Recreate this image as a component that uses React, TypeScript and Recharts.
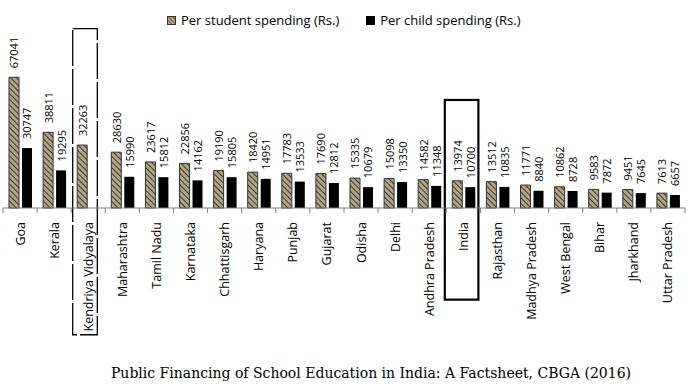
import { BarChart, Bar, XAxis, YAxis, LabelList, ReferenceArea } from "recharts"

const STATES = [
  "Goa", "Kerala", "Kendriya Vidyalaya", "Maharashtra", "Tamil Nadu", "Karnataka",
  "Chhattisgarh", "Haryana", "Punjab", "Gujarat", "Odisha", "Delhi", "Andhra Pradesh",
  "India", "Rajasthan", "Madhya Pradesh", "West Bengal", "Bihar", "Jharkhand", "Uttar Pradesh",
]
const PER_STUDENT = [
  67041, 38811, 32263, 28630, 23617, 22856, 19190, 18420, 17783, 17690,
  15335, 15098, 14582, 13974, 13512, 11771, 10862, 9583, 9451, 7613,
]
const PER_CHILD = [
  30747, 19295, null, 15990, 15812, 14162, 15805, 14951, 13533, 12812,
  10679, 13350, 11348, 10700, 10835, 8840, 8728, 7872, 7645, 6657,
]

const data = STATES.map((name, i) => ({
  name,
  student: PER_STUDENT[i],
  child: PER_CHILD[i],
}))

const FONT = "'Open Sans', sans-serif"
const TAN = "#b2a68a"

function ValueLabel(props: any) {
  const { x, y, width, value } = props
  if (value == null) return null
  const cx = x + width / 2
  const cy = y - 9
  return (
    <text
      x={cx}
      y={cy}
      transform={`rotate(-90, ${cx}, ${cy})`}
      textAnchor="start"
      dominantBaseline="central"
      fontSize={11}
      fontFamily={FONT}
      fill="#000"
    >
      {value}
    </text>
  )
}

function CategoryTick(props: any) {
  const { x, y, payload, index } = props
  const band = 682 / STATES.length
  const left = x - band / 2
  const ty = y + 6
  return (
    <g>
      <line x1={left} x2={left} y1={y - 8} y2={y - 3} stroke="#7f7f7f" />
      {index === STATES.length - 1 && (
        <line x1={left + band} x2={left + band} y1={y - 8} y2={y - 3} stroke="#7f7f7f" />
      )}
      <text
        x={x}
        y={ty}
        transform={`rotate(-90, ${x}, ${ty})`}
        textAnchor="end"
        dominantBaseline="central"
        fontSize={12.5}
        fontFamily={FONT}
        fill="#000"
      >
        {payload.value}
      </text>
    </g>
  )
}

function HatchSwatch() {
  return (
    <svg width={9} height={9} style={{ display: "block" }}>
      <rect x={0.5} y={0.5} width={8} height={8} fill="url(#hatchLegend)" stroke="#333" />
    </svg>
  )
}

export default function App() {
  return (
    <div style={{ position: "absolute", left: 0, top: 0, width: 699, height: 392, background: "#fff" }}>
      <svg width={0} height={0} style={{ position: "absolute" }}>
        <defs>
          <pattern id="hatchLegend" width={3} height={3} patternUnits="userSpaceOnUse" patternTransform="rotate(-45)">
            <rect width={3} height={3} fill={TAN} />
            <line x1={0} y1={0} x2={0} y2={3} stroke="#3d3829" strokeWidth={1.2} />
          </pattern>
        </defs>
      </svg>
      <div
        style={{
          position: "absolute",
          top: 11,
          left: 167,
          display: "flex",
          alignItems: "center",
          fontFamily: FONT,
          fontSize: 13,
          color: "#000",
        }}
      >
        <HatchSwatch />
        <span style={{ marginLeft: 5 }}>Per student spending (Rs.)</span>
        <div style={{ width: 9, height: 9, background: "#000", marginLeft: 27 }} />
        <span style={{ marginLeft: 5 }}>Per child spending (Rs.)</span>
      </div>
      <BarChart
        width={699}
        height={392}
        data={data}
        margin={{ top: 52, right: 14, left: 3, bottom: 54 }}
        barCategoryGap={6}
        barGap={3}
      >
        <defs>
          <pattern id="hatch" width={4} height={4} patternUnits="userSpaceOnUse" patternTransform="rotate(-45)">
            <rect width={4} height={4} fill={TAN} />
            <line x1={0} y1={0} x2={0} y2={4} stroke="#2e2a1f" strokeWidth={1.8} />
          </pattern>
        </defs>
        <YAxis hide domain={[0, 80000]} />
        <XAxis
          dataKey="name"
          interval={0}
          height={130}
          tickLine={false}
          axisLine={{ stroke: "#7f7f7f" }}
          tick={<CategoryTick />}
        />
        <Bar dataKey="student" fill="url(#hatch)" stroke="#333" strokeWidth={1} isAnimationActive={false}>
          <LabelList dataKey="student" content={<ValueLabel />} />
        </Bar>
        <Bar dataKey="child" fill="#000" isAnimationActive={false}>
          <LabelList dataKey="child" content={<ValueLabel />} />
        </Bar>
        <ReferenceArea
          x1="Kendriya Vidyalaya"
          x2="Kendriya Vidyalaya"
          y1={-65000}
          y2={92000}
          ifOverflow="visible"
          shape={(p: any) => (
            <rect
              x={p.x + 1.5}
              y={p.y}
              width={p.width - 9.5}
              height={p.height}
              fill="none"
              stroke="#000"
              strokeWidth={1.3}
              strokeDasharray="36 3"
            />
          )}
        />
        <ReferenceArea
          x1="India"
          x2="India"
          y1={-47000}
          y2={55400}
          ifOverflow="visible"
          shape={(p: any) => (
            <rect
              x={p.x - 1.5}
              y={p.y}
              width={p.width - 0.5}
              height={p.height}
              fill="none"
              stroke="#000"
              strokeWidth={2.2}
            />
          )}
        />
      </BarChart>
      <div
        style={{
          position: "absolute",
          top: 365,
          left: 0,
          width: 742,
          textAlign: "center",
          fontFamily: "'DejaVu Serif', serif",
          fontSize: 14,
          color: "#000",
          whiteSpace: "nowrap",
        }}
      >
        Public Financing of School Education in India: A Factsheet, CBGA (2016)
      </div>
    </div>
  )
}
